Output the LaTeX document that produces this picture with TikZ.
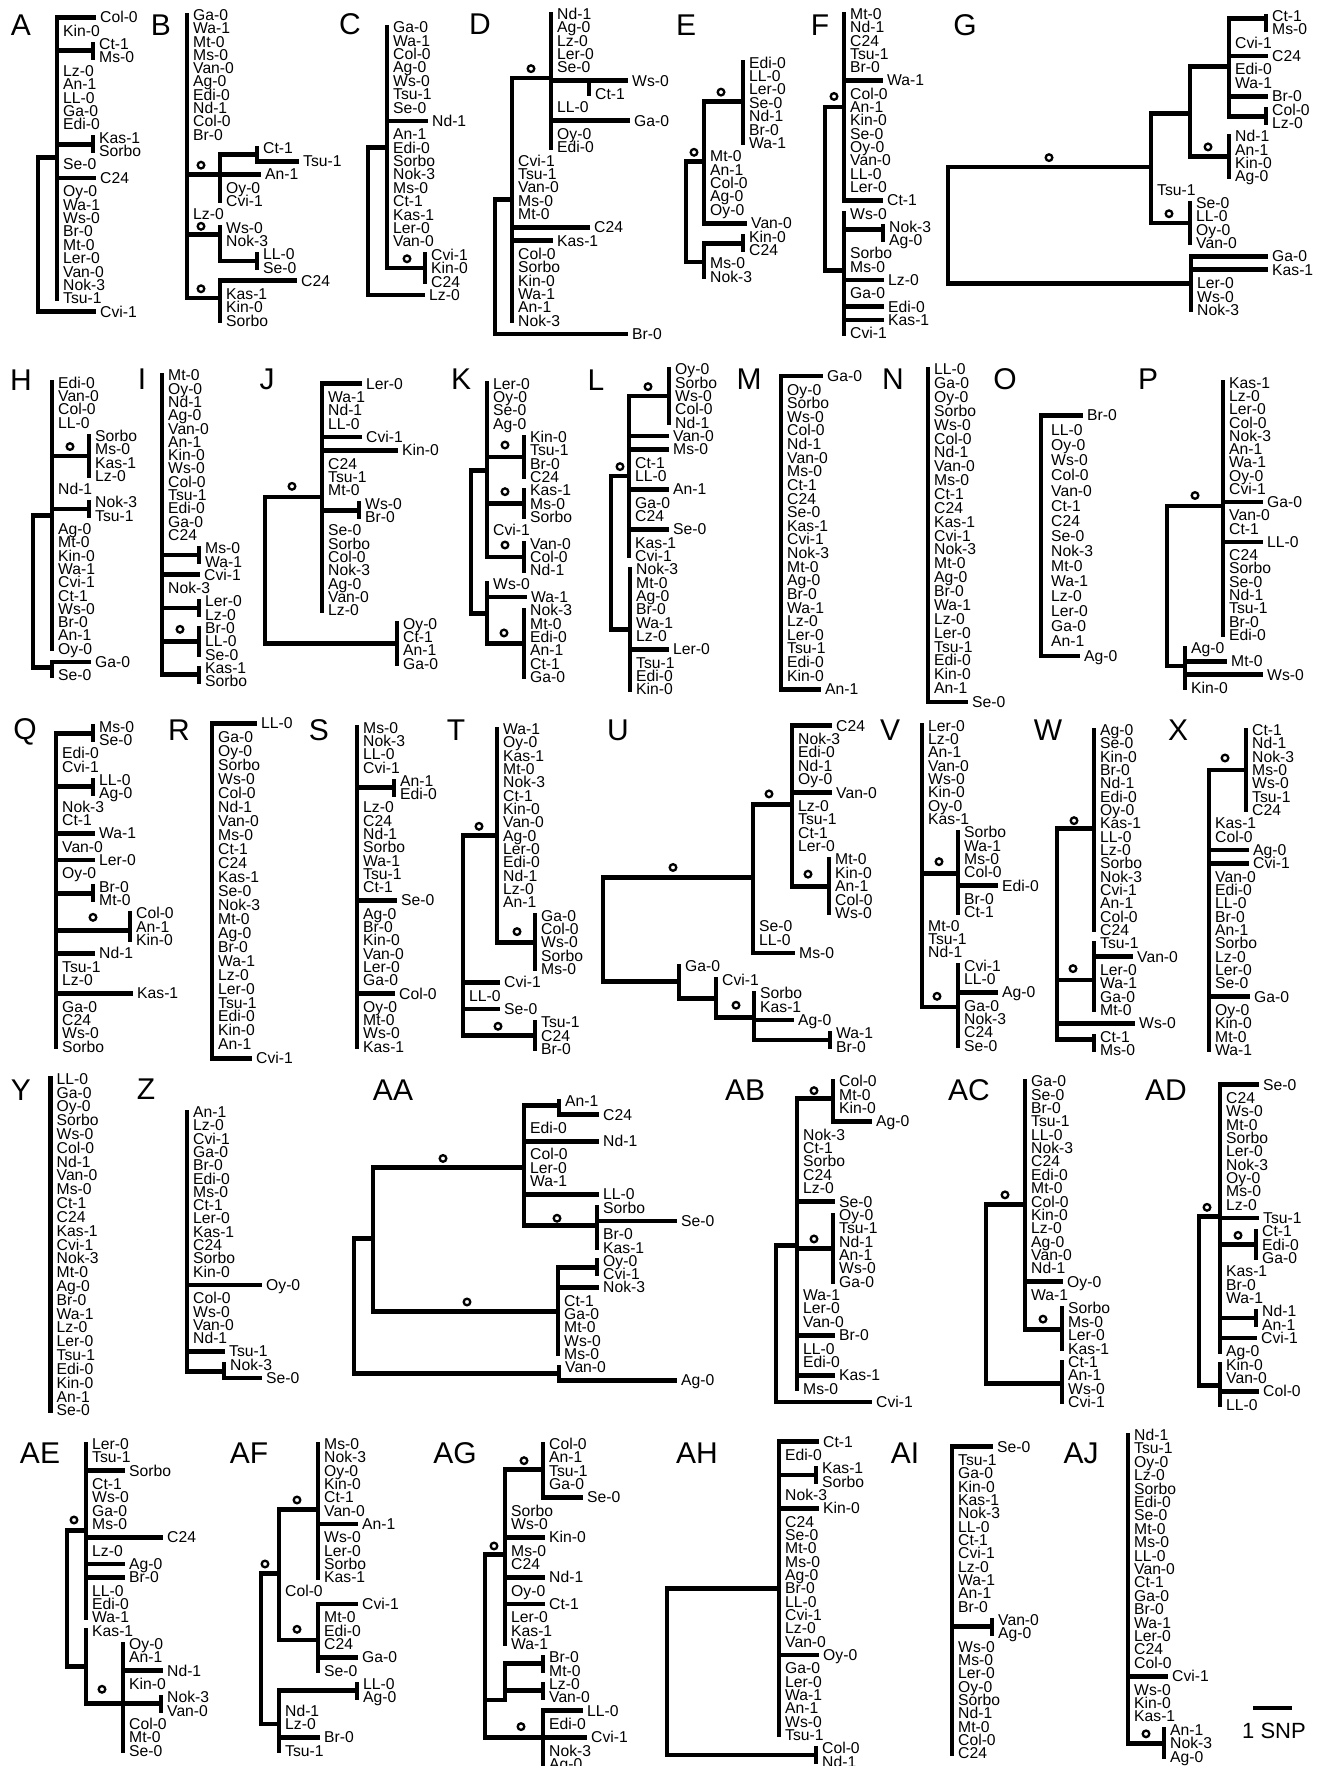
\documentclass[tikz,border=0pt]{standalone}
\usepackage{fontspec}
\setmainfont{Liberation Sans}
\usepackage{tikz}
\newcommand{\labfont}{\fontsize{15.7}{16}\selectfont}
\newcommand{\plfont}{\fontsize{30}{31}\selectfont}
\newcommand{\snpfont}{\fontsize{22}{24}\selectfont}
\tikzset{
  br/.style={line width=4.7pt, line cap=rect},
  lab/.style={font=\labfont, anchor=west, inner sep=1pt, text height=11pt, text depth=0pt},
  boot/.style={circle, draw, line width=2.3pt, minimum size=6.6pt, inner sep=0pt},
  pl/.style={font=\plfont, inner sep=0pt}
}
% one row per accession: parent x / tip x / name
\newcommand{\leaves}[1]{%
  \foreach \xa/\xb/\nm [count=\rw from 0] in {#1}{%
    \ifdim\xa pt=\xb pt\else\draw[br] (\xa,\rw) -- (\xb,\rw);\fi
    \node[lab] at (\xb+5,\rw) {\nm};}}

\begin{document}
\begin{tikzpicture}[x=1pt, y=-1pt]
\useasboundingbox (0,0) rectangle (1322,1766);
\fill[white] (0,0) rectangle (1322,1766);
% panel letters
\foreach \lt/\px/\py in {A/21/25, B/161/25, C/350/24, D/480/24, E/686/25, F/820/25, G/965/25,
  H/21/380, I/142/379, J/267/379, K/461/379, L/596/380, M/749/379, N/893/379, O/1005/379, P/1148/379,
  Q/25/732, R/179/730, S/319/730, T/456/730, U/618/730, V/890/730, W/1048/730, X/1178/730,
  Y/21/1090, Z/146/1089, AA/393/1090, AB/745/1090, AC/969/1090, AD/1166/1090,
  AE/40/1453, AF/249/1453, AG/455/1453, AH/697/1453, AI/905/1453, AJ/1081/1453}
  \node[pl] (p\lt) at (\px,\py) {\lt};
%
% A
\begin{scope}[yshift=-17.3pt, y=-13.38pt]
\draw[br] (57,0) -- (57,21);
\draw[br] (57,2.5) -- (93,2.5) (93,2) -- (93,3);
\draw[br] (57,9.5) -- (93,9.5) (93,9) -- (93,10);
\draw[br] (57,10.5) -- (38,10.5) -- (38,22);
\leaves{57/94/Col-0, 57/57/Kin-0, 93/93/Ct-1, 93/93/Ms-0, 57/57/Lz-0, 57/57/An-1, 57/57/LL-0, 57/57/Ga-0, 57/57/Edi-0, 93/93/Kas-1, 93/93/Sorbo, 57/57/Se-0, 57/94/C24, 57/57/Oy-0, 57/57/Wa-1, 57/57/Ws-0, 57/57/Br-0, 57/57/Mt-0, 57/57/Ler-0, 57/57/Van-0, 57/57/Nok-3, 57/57/Tsu-1, 38/94/Cvi-1}
\end{scope}
%
% B
\begin{scope}[yshift=-15pt, y=-13.29pt]
\draw[br] (187,0) -- (187,21.3);
\draw[br] (187,12) -- (220,12) (220,10.5) -- (220,14) (220,10.5) -- (257,10.5) (257,10) -- (257,11);
\draw[br] (187,16.5) -- (220,16.5) (220,16) -- (220,18.5) -- (257,18.5) (257,18) -- (257,19);
\draw[br] (187,21.3) -- (220,21.3) (220,20) -- (220,23);
\node[boot] at (201,11.3) {};
\node[boot] at (201,15.9) {};
\node[boot] at (201,20.6) {};
\leaves{187/187/Ga-0, 187/187/Wa-1, 187/187/Mt-0, 187/187/Ms-0, 187/187/Van-0, 187/187/Ag-0, 187/187/Edi-0, 187/187/Nd-1, 187/187/Col-0, 187/187/Br-0, 257/257/Ct-1, 257/297/Tsu-1, 220/259/An-1, 220/220/Oy-0, 220/220/Cvi-1, 187/187/Lz-0, 220/220/Ws-0, 220/220/Nok-3, 257/257/LL-0, 257/257/Se-0, 220/295/C24, 220/220/Kas-1, 220/220/Kin-0, 220/220/Sorbo}
\end{scope}
%
% C
\begin{scope}[yshift=-27.3pt, y=-13.38pt]
\draw[br] (387,0) -- (387,18) -- (425,18) (425,17) -- (425,19);
\draw[br] (387,9) -- (368,9) -- (368,20);
\node[boot] at (407,17.3) {};
\leaves{387/387/Ga-0, 387/387/Wa-1, 387/387/Col-0, 387/387/Ag-0, 387/387/Ws-0, 387/387/Tsu-1, 387/387/Se-0, 387/426/Nd-1, 387/387/An-1, 387/387/Edi-0, 387/387/Sorbo, 387/387/Nok-3, 387/387/Ms-0, 387/387/Ct-1, 387/387/Kas-1, 387/387/Ler-0, 387/387/Van-0, 425/425/Cvi-1, 425/425/Kin-0, 425/425/C24, 368/423/Lz-0}
\end{scope}
%
% D
\begin{scope}[yshift=-14pt, y=-13.33pt]
\draw[br] (551,0) -- (551,10) (551,5) -- (589,5) (589,5) -- (589,6);
\draw[br] (512,4.8) -- (551,4.8) (512,4.8) -- (512,23);
\draw[br] (512,13.9) -- (495,13.9) -- (495,24);
\node[boot] at (531,4.1) {};
\leaves{551/551/Nd-1, 551/551/Ag-0, 551/551/Lz-0, 551/551/Ler-0, 551/551/Se-0, 589/626/Ws-0, 589/589/Ct-1, 551/551/LL-0, 551/628/Ga-0, 551/551/Oy-0, 551/551/Edi-0, 512/512/Cvi-1, 512/512/Tsu-1, 512/512/Van-0, 512/512/Ms-0, 512/512/Mt-0, 512/588/C24, 512/551/Kas-1, 512/512/Col-0, 512/512/Sorbo, 512/512/Kin-0, 512/512/Wa-1, 512/512/An-1, 512/512/Nok-3, 495/626/Br-0}
\end{scope}
%
% E
\begin{scope}[yshift=-62.7pt, y=-13.375pt]
\draw[br] (743,0) -- (743,6) (704,2.9) -- (743,2.9) (704,2.9) -- (704,12);
\draw[br] (686,7.4) -- (704,7.4) (686,7.4) -- (686,14.9) -- (704,14.9) (704,13.5) -- (704,16) (704,13.5) -- (743,13.5) (743,13) -- (743,14);
\node[boot] at (721,2.2) {};
\node[boot] at (694,6.7) {};
\leaves{743/743/Edi-0, 743/743/LL-0, 743/743/Ler-0, 743/743/Se-0, 743/743/Nd-1, 743/743/Br-0, 743/743/Wa-1, 704/704/Mt-0, 704/704/An-1, 704/704/Col-0, 704/704/Ag-0, 704/704/Oy-0, 704/745/Van-0, 743/743/Kin-0, 743/743/C24, 704/704/Ms-0, 704/704/Nok-3}
\end{scope}
%
% F
\begin{scope}[yshift=-14pt, y=-13.3pt]
\draw[br] (844,0) -- (844,14) (825,7) -- (844,7) (825,7) -- (825,19.3) -- (844,19.3) (844,15) -- (844,24);
\draw[br] (844,16.2) -- (883,16.2) (883,16) -- (883,17);
\node[boot] at (834,6.2) {};
\leaves{844/844/Mt-0, 844/844/Nd-1, 844/844/C24, 844/844/Tsu-1, 844/844/Br-0, 844/881/Wa-1, 844/844/Col-0, 844/844/An-1, 844/844/Kin-0, 844/844/Se-0, 844/844/Oy-0, 844/844/Van-0, 844/844/LL-0, 844/844/Ler-0, 844/881/Ct-1, 844/844/Ws-0, 883/883/Nok-3, 883/883/Ag-0, 844/844/Sorbo, 844/844/Ms-0, 844/882/Lz-0, 844/844/Ga-0, 844/882/Edi-0, 844/882/Kas-1, 844/844/Cvi-1}
\end{scope}
%
% G
\begin{scope}[yshift=-16pt, y=-13.36pt]
\draw[br] (1229,0.2) -- (1229,7.5) (1229,0.2) -- (1266,0.2) (1266,0) -- (1266,1) (1229,7.5) -- (1266,7.5) (1266,7) -- (1266,8);
\draw[br] (1190,3.8) -- (1229,3.8) (1190,3.8) -- (1190,10.5) -- (1229,10.5) (1229,9) -- (1229,12);
\draw[br] (1151,7.3) -- (1190,7.3) (1151,7.3) -- (1151,15.5) -- (1190,15.5) (1190,14) -- (1190,17);
\draw[br] (948,11.3) -- (1151,11.3) (948,11.3) -- (948,20) -- (1191,20) (1191,18) -- (1191,22);
\node[boot] at (1208,9.8) {};
\node[boot] at (1169,14.8) {};
\node[boot] at (1049,10.6) {};
\leaves{1266/1266/Ct-1, 1266/1266/Ms-0, 1229/1229/Cvi-1, 1229/1266/C24, 1229/1229/Edi-0, 1229/1229/Wa-1, 1229/1266/Br-0, 1266/1266/Col-0, 1266/1266/Lz-0, 1229/1229/Nd-1, 1229/1229/An-1, 1229/1229/Kin-0, 1229/1229/Ag-0, 1151/1151/Tsu-1, 1190/1190/Se-0, 1190/1190/LL-0, 1190/1190/Oy-0, 1190/1190/Van-0, 1191/1266/Ga-0, 1191/1266/Kas-1, 1191/1191/Ler-0, 1191/1191/Ws-0, 1191/1191/Nok-3}
\end{scope}
%
% H
\begin{scope}[yshift=-382.7pt, y=-13.3pt]
\draw[br] (52,0) -- (52,20) (52,5.5) -- (89,5.5) (89,4) -- (89,7) (52,9.5) -- (89,9.5) (89,9) -- (89,10);
\draw[br] (52,10) -- (33,10) -- (33,21.4) -- (52,21.4) (52,21) -- (52,22);
\node[boot] at (70,4.8) {};
\leaves{52/52/Edi-0, 52/52/Van-0, 52/52/Col-0, 52/52/LL-0, 89/89/Sorbo, 89/89/Ms-0, 89/89/Kas-1, 89/89/Lz-0, 52/52/Nd-1, 89/89/Nok-3, 89/89/Tsu-1, 52/52/Ag-0, 52/52/Mt-0, 52/52/Kin-0, 52/52/Wa-1, 52/52/Cvi-1, 52/52/Ct-1, 52/52/Ws-0, 52/52/Br-0, 52/52/An-1, 52/52/Oy-0, 52/89/Ga-0, 52/52/Se-0}
\end{scope}
%
% I
\begin{scope}[yshift=-375.3pt, y=-13.3pt]
\draw[br] (162,0) -- (162,22.5) (162,13.5) -- (199,13.5) (199,13) -- (199,14);
\draw[br] (162,17.5) -- (199,17.5) (199,17) -- (199,18) (162,20) -- (199,20) (199,19) -- (199,21);
\draw[br] (162,22.5) -- (199,22.5) (199,22) -- (199,23);
\node[boot] at (180,19.1) {};
\leaves{162/162/Mt-0, 162/162/Oy-0, 162/162/Nd-1, 162/162/Ag-0, 162/162/Van-0, 162/162/An-1, 162/162/Kin-0, 162/162/Ws-0, 162/162/Col-0, 162/162/Tsu-1, 162/162/Edi-0, 162/162/Ga-0, 162/162/C24, 199/199/Ms-0, 199/199/Wa-1, 162/198/Cvi-1, 162/162/Nok-3, 199/199/Ler-0, 199/199/Lz-0, 199/199/Br-0, 199/199/LL-0, 199/199/Se-0, 199/199/Kas-1, 199/199/Sorbo}
\end{scope}
%
% J
\begin{scope}[yshift=-383.7pt, y=-13.33pt]
\draw[br] (322,0) -- (322,17) (322,9.5) -- (359,9.5) (359,9) -- (359,10);
\draw[br] (322,8.5) -- (265,8.5) -- (265,19.5) -- (397,19.5) (397,18) -- (397,21);
\node[boot] at (292,7.7) {};
\leaves{322/360/Ler-0, 322/322/Wa-1, 322/322/Nd-1, 322/322/LL-0, 322/360/Cvi-1, 322/396/Kin-0, 322/322/C24, 322/322/Tsu-1, 322/322/Mt-0, 359/359/Ws-0, 359/359/Br-0, 322/322/Se-0, 322/322/Sorbo, 322/322/Col-0, 322/322/Nok-3, 322/322/Ag-0, 322/322/Van-0, 322/322/Lz-0, 397/397/Oy-0, 397/397/Ct-1, 397/397/An-1, 397/397/Ga-0}
\end{scope}
%
% K
\begin{scope}[yshift=-383.7pt, y=-13.33pt]
\draw[br] (487,0) -- (487,13) (487,5.5) -- (524,5.5) (524,4) -- (524,7) (487,9) -- (524,9) (524,8) -- (524,10) (487,13) -- (524,13) (524,12) -- (524,14);
\draw[br] (487,6.5) -- (471,6.5) -- (471,17.25) -- (487,17.25) (487,15) -- (487,19.5) -- (524,19.5) (524,17) -- (524,22);
\node[boot] at (505,4.6) {};
\node[boot] at (505,8.1) {};
\node[boot] at (505,12.1) {};
\node[boot] at (504,18.7) {};
\leaves{487/487/Ler-0, 487/487/Oy-0, 487/487/Se-0, 487/487/Ag-0, 524/524/Kin-0, 524/524/Tsu-1, 524/524/Br-0, 524/524/C24, 524/524/Kas-1, 524/524/Ms-0, 524/524/Sorbo, 487/487/Cvi-1, 524/524/Van-0, 524/524/Col-0, 524/524/Nd-1, 487/487/Ws-0, 487/525/Wa-1, 524/524/Nok-3, 524/524/Mt-0, 524/524/Edi-0, 524/524/An-1, 524/524/Ct-1, 524/524/Ga-0}
\end{scope}
%
% L
\begin{scope}[yshift=-369.3pt, y=-13.33pt]
\draw[br] (669,0) -- (669,4) (629,2) -- (669,2) (629,2) -- (629,14);
\draw[br] (629,8) -- (611,8) -- (611,19.5) -- (630,19.5) (630,15) -- (630,24);
\node[boot] at (648,1.3) {};
\node[boot] at (620,7.3) {};
\leaves{669/669/Oy-0, 669/669/Sorbo, 669/669/Ws-0, 669/669/Col-0, 669/669/Nd-1, 629/667/Van-0, 629/667/Ms-0, 629/629/Ct-1, 629/629/LL-0, 629/667/An-1, 629/629/Ga-0, 629/629/C24, 629/667/Se-0, 629/629/Kas-1, 629/629/Cvi-1, 630/630/Nok-3, 630/630/Mt-0, 630/630/Ag-0, 630/630/Br-0, 630/630/Wa-1, 630/630/Lz-0, 630/667/Ler-0, 630/630/Tsu-1, 630/630/Edi-0, 630/630/Kin-0}
\end{scope}
%
% M
\begin{scope}[yshift=-376pt, y=-13.62pt]
\draw[br] (781,0) -- (781,23);
\leaves{781/821/Ga-0, 781/781/Oy-0, 781/781/Sorbo, 781/781/Ws-0, 781/781/Col-0, 781/781/Nd-1, 781/781/Van-0, 781/781/Ms-0, 781/781/Ct-1, 781/781/C24, 781/781/Se-0, 781/781/Kas-1, 781/781/Cvi-1, 781/781/Nok-3, 781/781/Mt-0, 781/781/Ag-0, 781/781/Br-0, 781/781/Wa-1, 781/781/Lz-0, 781/781/Ler-0, 781/781/Tsu-1, 781/781/Edi-0, 781/781/Kin-0, 781/819/An-1}
\end{scope}
%
% N
\begin{scope}[yshift=-369.3pt, y=-13.86pt]
\draw[br] (928,0) -- (928,24);
\leaves{928/928/LL-0, 928/928/Ga-0, 928/928/Oy-0, 928/928/Sorbo, 928/928/Ws-0, 928/928/Col-0, 928/928/Nd-1, 928/928/Van-0, 928/928/Ms-0, 928/928/Ct-1, 928/928/C24, 928/928/Kas-1, 928/928/Cvi-1, 928/928/Nok-3, 928/928/Mt-0, 928/928/Ag-0, 928/928/Br-0, 928/928/Wa-1, 928/928/Lz-0, 928/928/Ler-0, 928/928/Tsu-1, 928/928/Edi-0, 928/928/Kin-0, 928/928/An-1, 928/966/Se-0}
\end{scope}
%
% O
\begin{scope}[yshift=-415.3pt, y=-15.04pt]
\draw[br] (1041,0) -- (1041,16);
\leaves{1041/1081/Br-0, 1045/1045/LL-0, 1045/1045/Oy-0, 1045/1045/Ws-0, 1045/1045/Col-0, 1045/1045/Van-0, 1045/1045/Ct-1, 1045/1045/C24, 1045/1045/Se-0, 1045/1045/Nok-3, 1045/1045/Mt-0, 1045/1045/Wa-1, 1045/1045/Lz-0, 1045/1045/Ler-0, 1045/1045/Ga-0, 1045/1045/An-1, 1041/1078/Ag-0}
\end{scope}
%
% P
\begin{scope}[yshift=-382.7pt, y=-13.27pt]
\draw[br] (1223,0) -- (1223,19) (1223,9.3) -- (1167,9.3) -- (1167,21.35) -- (1185,21.35) (1185,20) -- (1185,23);
\node[boot] at (1195,8.5) {};
\leaves{1223/1223/Kas-1, 1223/1223/Lz-0, 1223/1223/Ler-0, 1223/1223/Col-0, 1223/1223/Nok-3, 1223/1223/An-1, 1223/1223/Wa-1, 1223/1223/Oy-0, 1223/1223/Cvi-1, 1223/1261/Ga-0, 1223/1223/Van-0, 1223/1223/Ct-1, 1223/1261/LL-0, 1223/1223/C24, 1223/1223/Sorbo, 1223/1223/Se-0, 1223/1223/Nd-1, 1223/1223/Tsu-1, 1223/1223/Br-0, 1223/1223/Edi-0, 1185/1185/Ag-0, 1185/1225/Mt-0, 1185/1261/Ws-0, 1185/1185/Kin-0}
\end{scope}
%
% Q
\begin{scope}[yshift=-726.7pt, y=-13.33pt]
\draw[br] (56,0.5) -- (56,24) (56,0.5) -- (93,0.5) (93,0) -- (93,1) (56,4.5) -- (93,4.5) (93,4) -- (93,5);
\draw[br] (56,12.5) -- (93,12.5) (93,12) -- (93,13) (56,15.3) -- (130,15.3) (130,14) -- (130,16);
\node[boot] at (93,14.3) {};
\leaves{93/93/Ms-0, 93/93/Se-0, 56/56/Edi-0, 56/56/Cvi-1, 93/93/LL-0, 93/93/Ag-0, 56/56/Nok-3, 56/56/Ct-1, 56/93/Wa-1, 56/56/Van-0, 56/93/Ler-0, 56/56/Oy-0, 93/93/Br-0, 93/93/Mt-0, 130/130/Col-0, 130/130/An-1, 130/130/Kin-0, 56/93/Nd-1, 56/56/Tsu-1, 56/56/Lz-0, 56/131/Kas-1, 56/56/Ga-0, 56/56/C24, 56/56/Ws-0, 56/56/Sorbo}
\end{scope}
%
% R
\begin{scope}[yshift=-723.3pt, y=-13.96pt]
\draw[br] (212,0) -- (212,24);
\leaves{212/255/LL-0, 212/212/Ga-0, 212/212/Oy-0, 212/212/Sorbo, 212/212/Ws-0, 212/212/Col-0, 212/212/Nd-1, 212/212/Van-0, 212/212/Ms-0, 212/212/Ct-1, 212/212/C24, 212/212/Kas-1, 212/212/Se-0, 212/212/Nok-3, 212/212/Mt-0, 212/212/Ag-0, 212/212/Br-0, 212/212/Wa-1, 212/212/Lz-0, 212/212/Ler-0, 212/212/Tsu-1, 212/212/Edi-0, 212/212/Kin-0, 212/212/An-1, 212/250/Cvi-1}
\end{scope}
%
% S
\begin{scope}[yshift=-727.7pt, y=-13.29pt]
\draw[br] (357,0) -- (357,24) (357,4.5) -- (394,4.5) (394,4) -- (394,5);
\leaves{357/357/Ms-0, 357/357/Nok-3, 357/357/LL-0, 357/357/Cvi-1, 394/394/An-1, 394/394/Edi-0, 357/357/Lz-0, 357/357/C24, 357/357/Nd-1, 357/357/Sorbo, 357/357/Wa-1, 357/357/Tsu-1, 357/357/Ct-1, 357/395/Se-0, 357/357/Ag-0, 357/357/Br-0, 357/357/Kin-0, 357/357/Van-0, 357/357/Ler-0, 357/357/Ga-0, 357/393/Col-0, 357/357/Oy-0, 357/357/Mt-0, 357/357/Ws-0, 357/357/Kas-1}
\end{scope}
%
% T
\begin{scope}[yshift=-729pt, y=-13.33pt]
\draw[br] (497,0) -- (497,16) -- (535,16) (535,14) -- (535,18);
\draw[br] (497,8) -- (463,8) -- (463,23) -- (535,23) (535,22) -- (535,24);
\node[boot] at (517,15.2) {};
\node[boot] at (479,7.3) {};
\node[boot] at (498,22.3) {};
\leaves{497/497/Wa-1, 497/497/Oy-0, 497/497/Kas-1, 497/497/Mt-0, 497/497/Nok-3, 497/497/Ct-1, 497/497/Kin-0, 497/497/Van-0, 497/497/Ag-0, 497/497/Ler-0, 497/497/Edi-0, 497/497/Nd-1, 497/497/Lz-0, 497/497/An-1, 535/535/Ga-0, 535/535/Col-0, 535/535/Ws-0, 535/535/Sorbo, 535/535/Ms-0, 463/498/Cvi-1, 463/463/LL-0, 463/498/Se-0, 535/535/Tsu-1, 535/535/C24, 535/535/Br-0}
\end{scope}
%
% U
\begin{scope}[yshift=-725.7pt, y=-13.375pt]
\draw[br] (792,0) -- (792,12) -- (829,12) (829,10) -- (829,14);
\draw[br] (792,5.9) -- (753,5.9) -- (753,17);
\draw[br] (753,11.36) -- (603,11.36) -- (603,19.14) -- (679,19.14) (679,18) -- (679,20.4) -- (716,20.4) (716,19) -- (716,21.8) -- (754,21.8) (754,20) -- (754,23.5) -- (830,23.5) (830,23) -- (830,24);
\node[boot] at (808,11.1) {};
\node[boot] at (769,5.1) {};
\node[boot] at (673,10.6) {};
\node[boot] at (736,20.9) {};
\leaves{792/830/C24, 792/792/Nok-3, 792/792/Edi-0, 792/792/Nd-1, 792/792/Oy-0, 792/830/Van-0, 792/792/Lz-0, 792/792/Tsu-1, 792/792/Ct-1, 792/792/Ler-0, 829/829/Mt-0, 829/829/Kin-0, 829/829/An-1, 829/829/Col-0, 829/829/Ws-0, 753/753/Se-0, 753/753/LL-0, 753/793/Ms-0, 679/679/Ga-0, 716/716/Cvi-1, 754/754/Sorbo, 754/754/Kas-1, 754/792/Ag-0, 830/830/Wa-1, 830/830/Br-0}
\end{scope}
%
% V
\begin{scope}[yshift=-725.7pt, y=-13.33pt]
\draw[br] (922,0) -- (922,21.1) -- (958,21.1) (958,18) -- (958,24) (922,11.07) -- (958,11.07) (958,8) -- (958,14);
\node[boot] at (939,10.2) {};
\node[boot] at (937,20.3) {};
\leaves{922/922/Ler-0, 922/922/Lz-0, 922/922/An-1, 922/922/Van-0, 922/922/Ws-0, 922/922/Kin-0, 922/922/Oy-0, 922/922/Kas-1, 958/958/Sorbo, 958/958/Wa-1, 958/958/Ms-0, 958/958/Col-0, 958/996/Edi-0, 958/958/Br-0, 958/958/Ct-1, 922/922/Mt-0, 922/922/Tsu-1, 922/922/Nd-1, 958/958/Cvi-1, 958/958/LL-0, 958/996/Ag-0, 958/958/Ga-0, 958/958/Nok-3, 958/958/C24, 958/958/Se-0}
\end{scope}
%
% W
\begin{scope}[yshift=-730pt, y=-13.33pt]
\draw[br] (1094,0) -- (1094,15) (1094,7.4) -- (1057,7.4) -- (1057,23.2) -- (1094,23.2) (1094,23) -- (1094,24);
\draw[br] (1057,18.75) -- (1094,18.75) (1094,16) -- (1094,21);
\node[boot] at (1074,6.8) {};
\node[boot] at (1073,17.9) {};
\leaves{1094/1094/Ag-0, 1094/1094/Se-0, 1094/1094/Kin-0, 1094/1094/Br-0, 1094/1094/Nd-1, 1094/1094/Edi-0, 1094/1094/Oy-0, 1094/1094/Kas-1, 1094/1094/LL-0, 1094/1094/Lz-0, 1094/1094/Sorbo, 1094/1094/Nok-3, 1094/1094/Cvi-1, 1094/1094/An-1, 1094/1094/Col-0, 1094/1094/C24, 1094/1094/Tsu-1, 1094/1131/Van-0, 1094/1094/Ler-0, 1094/1094/Wa-1, 1094/1094/Ga-0, 1094/1094/Mt-0, 1057/1133/Ws-0, 1094/1094/Ct-1, 1094/1094/Ms-0}
\end{scope}
%
% X
\begin{scope}[yshift=-730pt, y=-13.33pt]
\draw[br] (1246,0) -- (1246,6) (1246,3) -- (1209,3) -- (1209,24);
\node[boot] at (1225,2.1) {};
\leaves{1246/1246/Ct-1, 1246/1246/Nd-1, 1246/1246/Nok-3, 1246/1246/Ms-0, 1246/1246/Ws-0, 1246/1246/Tsu-1, 1246/1246/C24, 1209/1209/Kas-1, 1209/1209/Col-0, 1209/1247/Ag-0, 1209/1247/Cvi-1, 1209/1209/Van-0, 1209/1209/Edi-0, 1209/1209/LL-0, 1209/1209/Br-0, 1209/1209/An-1, 1209/1209/Sorbo, 1209/1209/Lz-0, 1209/1209/Ler-0, 1209/1209/Se-0, 1209/1248/Ga-0, 1209/1209/Oy-0, 1209/1209/Kin-0, 1209/1209/Mt-0, 1209/1209/Wa-1}
\end{scope}
%
% Y
\begin{scope}[yshift=-1078.7pt, y=-13.82pt]
\draw[br] (50.5,0) -- (50.5,24);
\leaves{50.5/50.5/LL-0, 50.5/50.5/Ga-0, 50.5/50.5/Oy-0, 50.5/50.5/Sorbo, 50.5/50.5/Ws-0, 50.5/50.5/Col-0, 50.5/50.5/Nd-1, 50.5/50.5/Van-0, 50.5/50.5/Ms-0, 50.5/50.5/Ct-1, 50.5/50.5/C24, 50.5/50.5/Kas-1, 50.5/50.5/Cvi-1, 50.5/50.5/Nok-3, 50.5/50.5/Mt-0, 50.5/50.5/Ag-0, 50.5/50.5/Br-0, 50.5/50.5/Wa-1, 50.5/50.5/Lz-0, 50.5/50.5/Ler-0, 50.5/50.5/Tsu-1, 50.5/50.5/Edi-0, 50.5/50.5/Kin-0, 50.5/50.5/An-1, 50.5/50.5/Se-0}
\end{scope}
%
% Z
\begin{scope}[yshift=-1112pt, y=-13.3pt]
\draw[br] (187,0) -- (187,19.5) -- (224,19.5) (224,19) -- (224,20);
\leaves{187/187/An-1, 187/187/Lz-0, 187/187/Cvi-1, 187/187/Ga-0, 187/187/Br-0, 187/187/Edi-0, 187/187/Ms-0, 187/187/Ct-1, 187/187/Ler-0, 187/187/Kas-1, 187/187/C24, 187/187/Sorbo, 187/187/Kin-0, 187/260/Oy-0, 187/187/Col-0, 187/187/Ws-0, 187/187/Van-0, 187/187/Nd-1, 187/223/Tsu-1, 224/224/Nok-3, 224/260/Se-0}
\end{scope}
%
% AA
\begin{scope}[yshift=-1101.3pt, y=-13.29pt]
\draw[br] (524,0.3) -- (524,9.33) -- (597,9.33) (597,8) -- (597,11) (524,0.3) -- (559,0.3) (559,0) -- (559,1);
\draw[br] (524,5) -- (373,5) -- (373,15.8) -- (558,15.8) (558,12.5) -- (558,19) (558,12.5) -- (597,12.5) (597,12) -- (597,13);
\draw[br] (373,10.3) -- (354,10.3) -- (354,20.5) -- (559,20.5) (559,20) -- (559,21);
\node[boot] at (557,8.8) {};
\node[boot] at (443,4.3) {};
\node[boot] at (467,15.1) {};
\leaves{559/559/An-1, 559/597/C24, 524/524/Edi-0, 524/597/Nd-1, 524/524/Col-0, 524/524/Ler-0, 524/524/Wa-1, 524/597/LL-0, 597/597/Sorbo, 597/675/Se-0, 597/597/Br-0, 597/597/Kas-1, 597/597/Oy-0, 597/597/Cvi-1, 558/597/Nok-3, 558/558/Ct-1, 558/558/Ga-0, 558/558/Mt-0, 558/558/Ws-0, 558/558/Ms-0, 559/559/Van-0, 559/675/Ag-0}
\end{scope}
%
% AB
\begin{scope}[yshift=-1081.3pt, y=-13.36pt]
\draw[br] (833,0) -- (833,3) (797,1.3) -- (833,1.3) (797,1.3) -- (797,23);
\draw[br] (797,12.5) -- (833,12.5) (833,10) -- (833,15) (797,12.3) -- (776,12.3) -- (776,24);
\node[boot] at (814,0.7) {};
\node[boot] at (814,11.8) {};
\leaves{833/833/Col-0, 833/833/Mt-0, 833/833/Kin-0, 833/870/Ag-0, 797/797/Nok-3, 797/797/Ct-1, 797/797/Sorbo, 797/797/C24, 797/797/Lz-0, 797/833/Se-0, 833/833/Oy-0, 833/833/Tsu-1, 833/833/Nd-1, 833/833/An-1, 833/833/Ws-0, 833/833/Ga-0, 797/797/Wa-1, 797/797/Ler-0, 797/797/Van-0, 797/833/Br-0, 797/797/LL-0, 797/797/Edi-0, 797/833/Kas-1, 797/797/Ms-0, 776/870/Cvi-1}
\end{scope}
%
% AC
\begin{scope}[yshift=-1081.3pt, y=-13.36pt]
\draw[br] (1025,0) -- (1025,18.6) -- (1062,18.6) (1062,17) -- (1062,20);
\draw[br] (1025,9.2) -- (986,9.2) -- (986,22.6) -- (1062,22.6) (1062,21) -- (1062,24);
\node[boot] at (1043,17.8) {};
\node[boot] at (1005,8.5) {};
\leaves{1025/1025/Ga-0, 1025/1025/Se-0, 1025/1025/Br-0, 1025/1025/Tsu-1, 1025/1025/LL-0, 1025/1025/Nok-3, 1025/1025/C24, 1025/1025/Edi-0, 1025/1025/Mt-0, 1025/1025/Col-0, 1025/1025/Kin-0, 1025/1025/Lz-0, 1025/1025/Ag-0, 1025/1025/Van-0, 1025/1025/Nd-1, 1025/1061/Oy-0, 1025/1025/Wa-1, 1062/1062/Sorbo, 1062/1062/Ms-0, 1062/1062/Ler-0, 1062/1062/Kas-1, 1062/1062/Ct-1, 1062/1062/An-1, 1062/1062/Ws-0, 1062/1062/Cvi-1}
\end{scope}
%
% AD
\begin{scope}[yshift=-1084.7pt, y=-13.33pt]
\draw[br] (1220,0) -- (1220,20) (1220,12) -- (1256,12) (1256,11) -- (1256,13) (1220,17.5) -- (1256,17.5) (1256,17) -- (1256,18);
\draw[br] (1220,9.9) -- (1199,9.9) -- (1199,22.55) -- (1220,22.55) (1220,21) -- (1220,24);
\node[boot] at (1238,11.3) {};
\node[boot] at (1207,9.2) {};
\leaves{1220/1257/Se-0, 1220/1220/C24, 1220/1220/Ws-0, 1220/1220/Mt-0, 1220/1220/Sorbo, 1220/1220/Ler-0, 1220/1220/Nok-3, 1220/1220/Oy-0, 1220/1220/Ms-0, 1220/1220/Lz-0, 1220/1257/Tsu-1, 1256/1256/Ct-1, 1256/1256/Edi-0, 1256/1256/Ga-0, 1220/1220/Kas-1, 1220/1220/Br-0, 1220/1220/Wa-1, 1256/1256/Nd-1, 1256/1256/An-1, 1220/1255/Cvi-1, 1220/1220/Ag-0, 1220/1220/Kin-0, 1220/1220/Van-0, 1220/1257/Col-0, 1220/1220/LL-0}
\end{scope}
%
% AE
\begin{scope}[yshift=-1444pt, y=-13.33pt]
\draw[br] (86,0) -- (86,13) (86,6.5) -- (67,6.5) -- (67,16.7) -- (86,16.7);
\draw[br] (86,14) -- (86,19.45) -- (161,19.45) (123,15) -- (123,23) (161,19) -- (161,20);
\node[boot] at (74,5.7) {};
\node[boot] at (102,18.4) {};
\leaves{86/86/Ler-0, 86/86/Tsu-1, 86/123/Sorbo, 86/86/Ct-1, 86/86/Ws-0, 86/86/Ga-0, 86/86/Ms-0, 86/161/C24, 86/86/Lz-0, 86/123/Ag-0, 86/123/Br-0, 86/86/LL-0, 86/86/Edi-0, 86/86/Wa-1, 86/86/Kas-1, 123/123/Oy-0, 123/123/An-1, 123/161/Nd-1, 123/123/Kin-0, 161/161/Nok-3, 161/161/Van-0, 123/123/Col-0, 123/123/Mt-0, 123/123/Se-0}
\end{scope}
%
% AF
\begin{scope}[yshift=-1444pt, y=-13.33pt]
\draw[br] (318,0) -- (318,10) (318,4.9) -- (279,4.9) -- (279,14.7) -- (318,14.7) (318,12) -- (318,17);
\draw[br] (279,9.7) -- (261,9.7) -- (261,21) -- (279,21) (279,18.5) -- (279,23) (279,18.5) -- (357,18.5) (357,18) -- (357,19);
\node[boot] at (297,4.2) {};
\node[boot] at (297,13.9) {};
\node[boot] at (265,9) {};
\leaves{318/318/Ms-0, 318/318/Nok-3, 318/318/Oy-0, 318/318/Kin-0, 318/318/Ct-1, 318/318/Van-0, 318/356/An-1, 318/318/Ws-0, 318/318/Ler-0, 318/318/Sorbo, 318/318/Kas-1, 279/279/Col-0, 318/356/Cvi-1, 318/318/Mt-0, 318/318/Edi-0, 318/318/C24, 318/356/Ga-0, 318/318/Se-0, 357/357/LL-0, 357/357/Ag-0, 279/279/Nd-1, 279/279/Lz-0, 279/318/Br-0, 279/279/Tsu-1}
\end{scope}
%
% AG
\begin{scope}[yshift=-1444pt, y=-13.33pt]
\draw[br] (543,0) -- (543,4) (505,1.9) -- (543,1.9) (505,1.9) -- (505,15);
\draw[br] (505,8.3) -- (485,8.3) -- (485,22) -- (543,22) (543,20) -- (543,24.5);
\draw[br] (485,19.2) -- (505,19.2) (505,16.45) -- (505,19.2) (505,16.45) -- (543,16.45) (543,16) -- (543,17) (505,18.5) -- (543,18.5) (543,18) -- (543,19);
\node[boot] at (524,1.25) {};
\node[boot] at (494,7.65) {};
\node[boot] at (521,21.2) {};
\leaves{543/543/Col-0, 543/543/An-1, 543/543/Tsu-1, 543/543/Ga-0, 543/581/Se-0, 505/505/Sorbo, 505/505/Ws-0, 505/543/Kin-0, 505/505/Ms-0, 505/505/C24, 505/543/Nd-1, 505/505/Oy-0, 505/543/Ct-1, 505/505/Ler-0, 505/505/Kas-1, 505/505/Wa-1, 543/543/Br-0, 543/543/Mt-0, 543/543/Lz-0, 543/543/Van-0, 543/581/LL-0, 543/543/Edi-0, 543/585/Cvi-1, 543/543/Nok-3, 543/543/Ag-0}
\end{scope}
%
% AH
\begin{scope}[yshift=-1441.7pt, y=-13.33pt]
\draw[br] (779,0) -- (779,22) (779,2.5) -- (816,2.5) (816,2) -- (816,3);
\draw[br] (779,11) -- (667,11) -- (667,23.5) -- (816,23.5) (816,23) -- (816,24);
\leaves{779/817/Ct-1, 779/779/Edi-0, 816/816/Kas-1, 816/816/Sorbo, 779/779/Nok-3, 779/817/Kin-0, 779/779/C24, 779/779/Se-0, 779/779/Mt-0, 779/779/Ms-0, 779/779/Ag-0, 779/779/Br-0, 779/779/LL-0, 779/779/Cvi-1, 779/779/Lz-0, 779/779/Van-0, 779/817/Oy-0, 779/779/Ga-0, 779/779/Ler-0, 779/779/Wa-1, 779/779/An-1, 779/779/Ws-0, 779/779/Tsu-1, 816/816/Col-0, 816/816/Nd-1}
\end{scope}
%
% AI
\begin{scope}[yshift=-1446.7pt, y=-13.33pt]
\draw[br] (952,0) -- (952,23) (952,13.5) -- (992,13.5) (992,13) -- (992,14);
\leaves{952/991/Se-0, 952/952/Tsu-1, 952/952/Ga-0, 952/952/Kin-0, 952/952/Kas-1, 952/952/Nok-3, 952/952/LL-0, 952/952/Ct-1, 952/952/Cvi-1, 952/952/Lz-0, 952/952/Wa-1, 952/952/An-1, 952/952/Br-0, 992/992/Van-0, 992/992/Ag-0, 952/952/Ws-0, 952/952/Ms-0, 952/952/Ler-0, 952/952/Oy-0, 952/952/Sorbo, 952/952/Nd-1, 952/952/Mt-0, 952/952/Col-0, 952/952/C24}
\end{scope}
%
% AJ
\begin{scope}[yshift=-1435pt, y=-13.4pt]
\draw[br] (1128,0) -- (1128,23) -- (1164,23) (1164,22) -- (1164,24);
\node[boot] at (1146,22.3) {};
\leaves{1128/1128/Nd-1, 1128/1128/Tsu-1, 1128/1128/Oy-0, 1128/1128/Lz-0, 1128/1128/Sorbo, 1128/1128/Edi-0, 1128/1128/Se-0, 1128/1128/Mt-0, 1128/1128/Ms-0, 1128/1128/LL-0, 1128/1128/Van-0, 1128/1128/Ct-1, 1128/1128/Ga-0, 1128/1128/Br-0, 1128/1128/Wa-1, 1128/1128/Ler-0, 1128/1128/C24, 1128/1128/Col-0, 1128/1166/Cvi-1, 1128/1128/Ws-0, 1128/1128/Kin-0, 1128/1128/Kas-1, 1164/1164/An-1, 1164/1164/Nok-3, 1164/1164/Ag-0}
\end{scope}
%
% scale bar
\draw[br] (1255,1708) -- (1290,1708);
\node[font=\snpfont, inner sep=0pt] (snp) at (1274,1731) {1 SNP};
\end{tikzpicture}
\end{document}
